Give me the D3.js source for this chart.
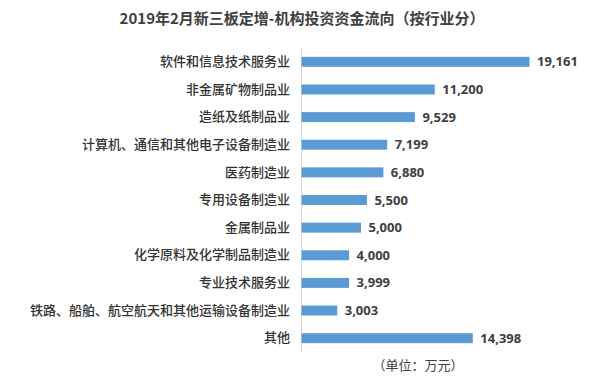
<!DOCTYPE html>
<html>
<head>
<meta charset="utf-8">
<script src="https://cdn.jsdelivr.net/npm/d3@7"></script>
<style>
  body { margin: 0; background: #fff; }
  text { font-family: "Noto Sans CJK SC", "Noto Sans", sans-serif; }
</style>
</head>
<body>
<div id="app"></div>
<script>
// 行业 (top to bottom)
const industries = [
    "软件和信息技术服务业",
    "非金属矿物制品业",
    "造纸及纸制品业",
    "计算机、通信和其他电子设备制造业",
    "医药制造业",
    "专用设备制造业",
    "金属制品业",
    "化学原料及化学制品制造业",
    "专业技术服务业",
    "铁路、船舶、航空航天和其他运输设备制造业",
    "其他"
];
// 投资金额 (万元)
const amounts = [19161, 11200, 9529, 7199, 6880, 5500, 5000, 4000, 3999, 3003, 14398];

const titleText = "2019年2月新三板定增-机构投资资金流向（按行业分）";
const unitText = "（单位：万元）";

let width = 605;
let height = 378;

let svg = d3.select("#app")
    .append("svg")
        .attr("width", width)
        .attr("height", height);

let data = industries.map((name, i) => ({name: name, value: amounts[i]}));

let y = d3.scaleBand()
    .domain(industries)
    .range([48, 352])
    .paddingInner(0.64)
    .paddingOuter(0.32);

let x = d3.scaleLinear()
    .domain([0, 19161])
    .range([301, 529]);

// title
svg.append("text")
    .attr("x", 302)
    .attr("y", 24)
    .attr("text-anchor", "middle")
    .attr("font-size", 15)
    .attr("font-weight", "bold")
    .attr("fill", "#404040")
    .text(titleText);

// category axis
let yAxis = svg.append("g")
    .attr("transform", "translate(" + x(0) + ",0)")
    .call(d3.axisLeft(y).tickSize(0).tickPadding(11));
yAxis.select(".domain").attr("stroke", "#d9d9d9");
yAxis.selectAll("text")
    .attr("font-size", 13)
    .attr("fill", "#333333")
    .style("font-family", "'Noto Sans CJK SC', sans-serif")
    .style("font-weight", 500);

// bars
svg.append("g")
    .attr("fill", "#5b9bd5")
    .selectAll("rect")
    .data(data)
    .enter().append("rect")
        .attr("x", x(0) + 0.5)
        .attr("y", d => y(d.name))
        .attr("width", d => x(d.value) - x(0))
        .attr("height", y.bandwidth());

// value labels
svg.append("g")
    .selectAll("text")
    .data(data)
    .enter().append("text")
        .attr("x", d => x(d.value) + 8)
        .attr("y", d => y(d.name) + y.bandwidth() / 2)
        .attr("dy", "0.35em")
        .attr("font-size", 13)
        .attr("font-weight", "bold")
        .attr("fill", "#404040")
        .style("font-family", "'Open Sans', 'Noto Sans', sans-serif")
        .text(d => d3.format(",")(d.value));

// unit note
svg.append("text")
    .attr("x", 418)
    .attr("y", 370)
    .attr("text-anchor", "middle")
    .attr("font-size", 13)
    .attr("fill", "#404040")
    .text(unitText);
</script>
</body>
</html>
